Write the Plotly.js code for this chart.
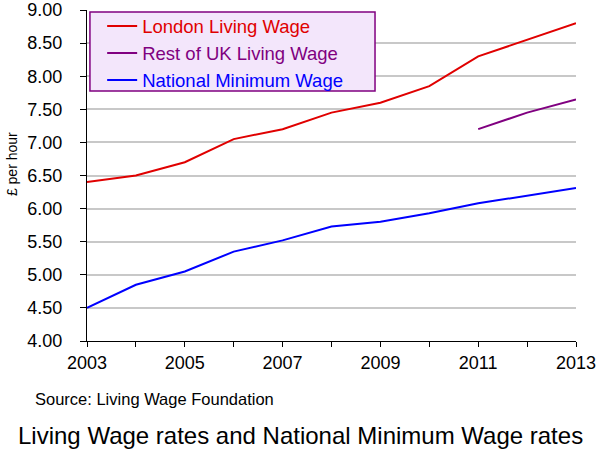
<html><head>
<script src="https://cdn.plot.ly/plotly-3.0.1.min.js"></script>
<style>
body { margin: 0; background: white; }
#chart { width: 600px; height: 450px; }
</style>
</head>
<body>
<div id="chart"></div>
<script>
// years and hourly rates (GBP)
const years = [2003, 2004, 2005, 2006, 2007, 2008, 2009, 2010, 2011, 2012, 2013];
const londonLW = [6.40, 6.50, 6.70, 7.05, 7.20, 7.45, 7.60, 7.85, 8.30, 8.55, 8.80];
const ukYears = [2011, 2012, 2013];
const restUkLW = [7.20, 7.45, 7.65];
const minWage = [4.50, 4.85, 5.05, 5.35, 5.52, 5.73, 5.80, 5.93, 6.08, 6.19, 6.31];

const fnt = 'Liberation Sans, Arial, sans-serif';

const data = [
  {x: years, y: londonLW, type: 'scatter', mode: 'lines',
   name: '<span style="color:#e00000">London Living Wage</span>',
   line: {color: '#e00000', width: 2}},
  {x: ukYears, y: restUkLW, type: 'scatter', mode: 'lines',
   name: '<span style="color:#800080">Rest of UK Living Wage</span>',
   line: {color: '#800080', width: 2}},
  {x: years, y: minWage, type: 'scatter', mode: 'lines',
   name: '<span style="color:#0000ff">National Minimum Wage</span>',
   line: {color: '#0000ff', width: 2}}
];

const layout = {
  width: 600, height: 450,
  margin: {l: 87, r: 24, t: 10, b: 109, autoexpand: false},
  paper_bgcolor: 'white', plot_bgcolor: 'white',
  font: {family: fnt, color: '#000'},
  showlegend: true,
  legend: {
    x: 0.031, y: 1.008, xanchor: 'left', yanchor: 'top',
    bgcolor: 'rgba(0,0,0,0)', borderwidth: 0, tracegroupgap: 0,
    font: {size: 18.5, family: fnt}
  },
  xaxis: {
    range: [2003, 2013], tickvals: years,
    ticktext: years.map(y => (y % 2 === 1 ? String(y) : '')),
    ticks: 'outside', ticklen: 5, tickcolor: '#000',
    showline: true, linecolor: '#000', linewidth: 1,
    showgrid: false, zeroline: false,
    tickfont: {size: 18}
  },
  yaxis: {
    range: [4, 9], dtick: 0.5, tickformat: '.2f',
    ticks: 'outside', ticklen: 6, tickcolor: '#000',
    ticklabelstandoff: 14,
    showline: true, linecolor: '#000', linewidth: 1,
    gridcolor: '#c8c8c8', gridwidth: 1.5, zeroline: false,
    tickfont: {size: 18}
  },
  shapes: [
    {type: 'rect', xref: 'paper', yref: 'paper',
     x0: 0.006, x1: 0.589, y0: 0.755, y1: 0.994,
     fillcolor: '#f3e6fb', line: {color: '#800080', width: 1.5}, layer: 'above'}
  ],
  annotations: [
    {text: '£ per hour', xref: 'paper', yref: 'paper', textangle: -90,
     x: -0.153, y: 0.535, xanchor: 'center', yanchor: 'middle', showarrow: false,
     font: {size: 14}},
    {text: 'Source: Living Wage Foundation', xref: 'paper', yref: 'paper',
     x: -0.110, y: -0.175, xanchor: 'left', yanchor: 'middle', showarrow: false,
     font: {size: 16.5}},
    {text: 'Living Wage rates and National Minimum Wage rates', xref: 'paper', yref: 'paper',
     x: 0.4356, y: -0.284, xanchor: 'center', yanchor: 'middle', showarrow: false,
     font: {size: 24}}
  ]
};

Plotly.newPlot('chart', data, layout, {displayModeBar: false});
</script>
</body></html>
